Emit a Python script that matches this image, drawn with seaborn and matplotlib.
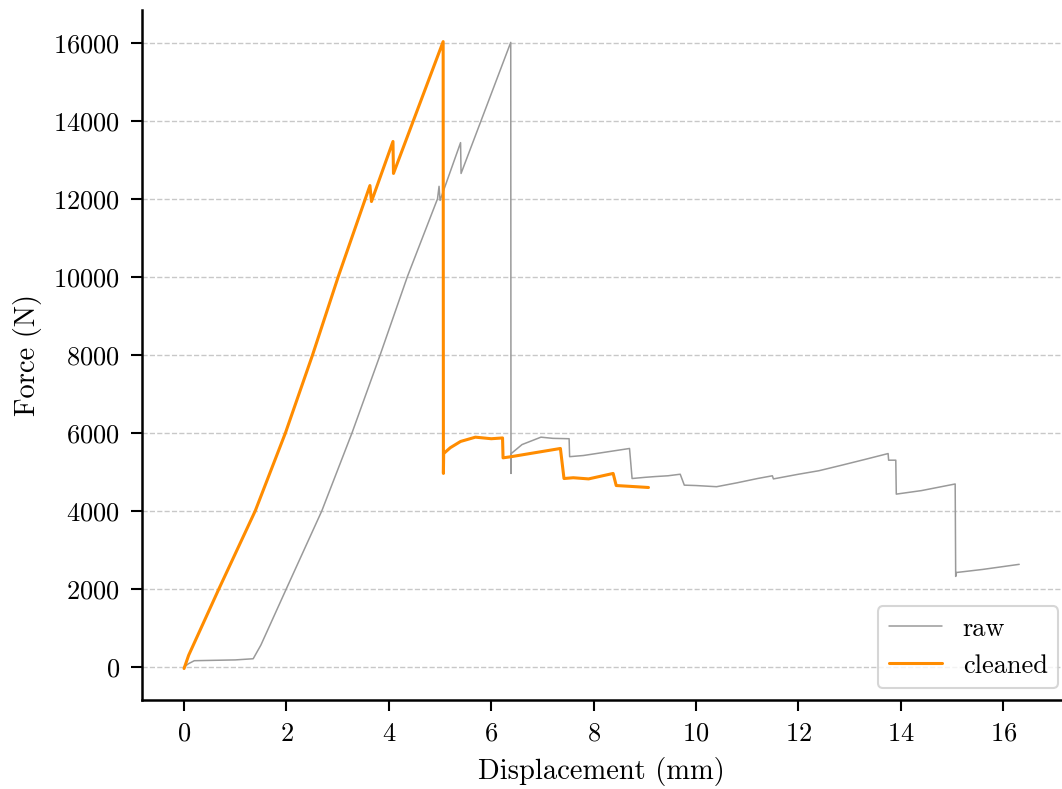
import matplotlib
matplotlib.use("Agg")
import matplotlib.pyplot as plt
import seaborn as sns
import pandas as pd

# ---- data ----
raw_disp = [0.00, 0.09, 0.20, 0.60, 1.00, 1.35, 1.50, 2.00, 2.69, 3.28, 3.83, 4.36,
            4.95, 4.98, 5.00, 5.40, 5.41, 6.38, 6.385, 6.39, 6.60, 6.97, 7.20, 7.52,
            7.53, 7.80, 8.20, 8.70, 8.75, 9.00, 9.20, 9.45, 9.69, 9.77, 10.00, 10.40, 10.80,
            11.20, 11.49, 11.51, 12.00, 12.40, 12.84, 13.30, 13.75, 13.76, 13.90, 13.91,
            14.40, 15.06, 15.07, 15.08, 15.60, 16.31]
raw_force = [0, 85, 160, 170, 180, 210, 560, 2010, 4000, 6000, 8000, 10000,
             12000, 12320, 11960, 13440, 12650, 16010, 4960, 5470, 5700, 5890, 5860, 5850,
             5390, 5420, 5500, 5600, 4830, 4860, 4880, 4900, 4940, 4660, 4650, 4620, 4720,
             4830, 4900, 4820, 4940, 5030, 5170, 5320, 5470, 5300, 5300, 4430,
             4520, 4690, 2320, 2420, 2500, 2630]

clean_disp = [0.00, 0.09, 0.68, 1.39, 1.98, 2.51, 3.01, 3.54, 3.63, 3.66,
              4.08, 4.09, 5.06, 5.065, 5.07, 5.20, 5.40, 5.69, 6.00, 6.22, 6.23, 6.39,
              6.80, 7.35, 7.42, 7.60, 7.90, 8.38, 8.44, 8.70, 9.07]
clean_force = [-40, 300, 2000, 4000, 6000, 8000, 10000, 12000, 12340, 11930,
               13470, 12650, 16030, 4960, 5470, 5620, 5780, 5890, 5850, 5870, 5360, 5390,
               5480, 5600, 4830, 4850, 4820, 4960, 4650, 4630, 4600]

sns.set_theme(style="ticks")
plt.rcParams["font.family"] = ["cmr10", "DejaVu Serif"]
plt.rcParams["mathtext.fontset"] = "cm"
plt.rcParams["axes.formatter.use_mathtext"] = True
plt.rcParams["text.color"] = "black"
plt.rcParams["axes.labelcolor"] = "black"
plt.rcParams["xtick.color"] = "black"
plt.rcParams["ytick.color"] = "black"

fig, ax = plt.subplots(figsize=(10.62, 7.89), dpi=100)
fig.subplots_adjust(left=0.134, right=0.999, bottom=0.113, top=0.987)

df_raw = pd.DataFrame({"Displacement": raw_disp, "Force": raw_force})
df_clean = pd.DataFrame({"Displacement": clean_disp, "Force": clean_force})

sns.lineplot(data=df_raw, x="Displacement", y="Force", ax=ax, color="#9a9a9a",
             linewidth=1.1, label="raw", sort=False, estimator=None)
sns.lineplot(data=df_clean, x="Displacement", y="Force", ax=ax, color="#ff8c00",
             linewidth=2.2, label="cleaned", sort=False, estimator=None)

ax.set_xticks(range(0, 17, 2))
ax.set_yticks(range(0, 16001, 2000))
ax.tick_params(axis="both", labelsize=19, width=1.5, length=8, pad=8, color="black",
               labelcolor="black")
ax.set_xlabel("Displacement (mm)", fontsize=20.5, labelpad=8)
ax.set_ylabel("Force (N)", fontsize=20.5, labelpad=8)
ax.yaxis.grid(True, linestyle="--", color="#c8c8c8", linewidth=1.0)
ax.xaxis.grid(False)
sns.despine(ax=ax)
for s in ["left", "bottom"]:
    ax.spines[s].set_linewidth(1.8)
    ax.spines[s].set_color("black")

leg = ax.legend(loc="lower right", bbox_to_anchor=(0.997, 0.017), borderaxespad=0,
                fontsize=19, frameon=True, fancybox=True)
leg.get_frame().set_edgecolor("#cccccc")
leg.get_frame().set_linewidth(1.5)

fig.savefig("out.png", dpi=100)
